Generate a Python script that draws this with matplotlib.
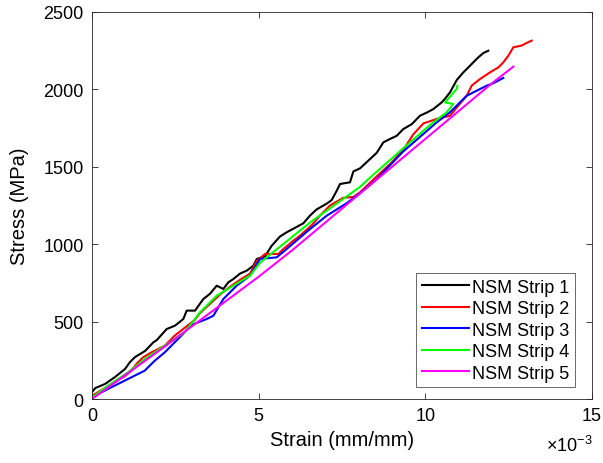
import numpy as np
import matplotlib
matplotlib.use("Agg")
import matplotlib.pyplot as plt

plt.rcParams['font.family'] = ['Liberation Sans', 'DejaVu Sans']
plt.rcParams['mathtext.fontset'] = 'custom'
plt.rcParams['mathtext.rm'] = 'Liberation Sans'

# strain values in units of 1e-3 mm/mm, stress in MPa
strain_1 = [0.0, 0.1, 0.39, 0.69, 0.99, 1.14, 1.29, 1.59, 1.84, 1.94, 2.24, 2.49,
            2.74, 2.84, 3.09, 3.34, 3.54, 3.74, 3.94, 4.09, 4.24, 4.44, 4.64,
            4.84, 4.94, 5.19, 5.39, 5.64, 5.84, 6.04, 6.34, 6.54, 6.74, 7.04,
            7.19, 7.34, 7.44, 7.74, 7.84, 8.04, 8.34, 8.54, 8.74, 8.94, 9.14,
            9.34, 9.59, 9.84, 10.04, 10.24, 10.49, 10.59, 10.74, 10.94, 11.14,
            11.29, 11.44, 11.59, 11.74, 11.89]
stress_1 = [45, 71, 97, 142, 194, 239, 271, 310, 366, 380, 452, 474,
            517, 571, 571, 646, 680, 732, 711, 754, 775, 810, 829,
            861, 904, 922, 990, 1050, 1077, 1100, 1135, 1185, 1225, 1262,
            1285, 1345, 1389, 1400, 1470, 1490, 1550, 1590, 1658, 1680, 1700,
            1744, 1775, 1830, 1850, 1873, 1916, 1940, 1981, 2060, 2110,
            2142, 2175, 2207, 2235, 2250]

strain_2 = [0.0, 0.5, 1.0, 1.18, 1.33, 1.53, 1.78, 2.18, 2.48, 2.78, 3.08, 3.24,
            3.54, 3.84, 4.14, 4.44, 4.74, 4.94, 5.19, 5.39, 5.59, 5.74, 6.04,
            6.24, 6.6, 6.84, 7.14, 7.54, 7.84, 8.04, 8.5, 9.0, 9.4, 9.64, 9.94,
            10.34, 10.74, 10.99, 11.24, 11.39, 11.64, 11.94, 12.19, 12.34, 12.49,
            12.64, 12.89, 13.04, 13.19]
stress_2 = [21, 85, 150, 183, 226, 269, 301, 344, 409, 460, 510, 555,
            615, 675, 725, 770, 810, 890, 937, 937, 937, 969, 1023,
            1055, 1125, 1185, 1250, 1300, 1305, 1335, 1430, 1530, 1630, 1710, 1780,
            1809, 1830, 1895, 1959, 2024, 2067, 2110, 2142, 2175, 2218,
            2272, 2283, 2300, 2315]

strain_3 = [0.0, 0.48, 0.88, 1.28, 1.58, 1.88, 2.18, 2.48, 2.78, 2.94, 3.44, 3.64,
            3.94, 4.34, 4.74, 5.04, 5.54, 5.84, 6.54, 7.04, 7.64, 8.04, 8.54,
            9.34, 10.34, 10.74, 11.24, 11.84, 12.04, 12.34]
stress_3 = [11, 65, 108, 151, 183, 247, 301, 366, 431, 474, 517, 538,
            646, 732, 797, 905, 915, 969, 1098, 1184, 1265, 1330, 1420,
            1600, 1787, 1852, 1959, 2024, 2040, 2074]

strain_4 = [0.0, 0.48, 1.08, 1.58, 2.18, 2.78, 3.24, 3.74, 4.24, 4.74, 5.04, 6.54,
            8.04, 8.34, 9.34, 10.14, 10.64, 10.84, 10.59, 10.94, 10.96]
stress_4 = [10, 86, 172, 258, 344, 431, 560, 667, 732, 797, 880, 1140,
            1370, 1430, 1620, 1770, 1852, 1906, 1916, 2003, 2024]

strain_5 = [0.0, 1.0, 2.0, 3.0, 4.0, 5.0, 6.0, 7.0, 8.0, 9.0, 10.0, 11.0, 12.0, 12.64]
stress_5 = [0, 155, 310, 470, 630, 790, 960, 1140, 1320, 1500, 1680, 1860, 2040, 2147]

labels = ['NSM Strip 1', 'NSM Strip 2', 'NSM Strip 3', 'NSM Strip 4', 'NSM Strip 5']
colors = ['black', '#ff0000', '#0000ff', '#00ff00', '#ff00ff']
series = [(strain_1, stress_1), (strain_2, stress_2), (strain_3, stress_3),
          (strain_4, stress_4), (strain_5, stress_5)]

fig = plt.figure(figsize=(6.03, 4.64), dpi=100)
ax = fig.add_axes([0.1526, 0.1379, 0.8292, 0.8341])

for (x, y), c, lab in zip(series, colors, labels):
    ax.plot(x, y, color=c, linewidth=1.5, label=lab)

ax.set_xlim(0, 15)
ax.set_ylim(0, 2500)
ax.set_xticks([0, 5, 10, 15])
ax.set_yticks([0, 500, 1000, 1500, 2000, 2500])

ax.tick_params(direction='in', top=True, right=True, labelsize=13,
               colors='#262626', labelcolor='black', length=4, width=0.6, pad=6)
for s in ax.spines.values():
    s.set_color('#262626')
    s.set_linewidth(0.6)

ax.set_xlabel('Strain (mm/mm)', fontsize=14.5, labelpad=4)
ax.set_ylabel('Stress (MPa)', fontsize=14.5, labelpad=10)

# the x scale factor, placed like MATLAB's exponent label
fig.text(0.982, 0.018, r'$\times 10^{-3}$', fontsize=13, ha='right', va='bottom')

leg = ax.legend(loc='lower right', fontsize=13, frameon=True, fancybox=False,
                handlelength=2.6, handletextpad=0.2, labelspacing=0.25,
                borderpad=0.3, borderaxespad=0.0,
                bbox_to_anchor=(0.966, 0.031))
leg.get_frame().set_edgecolor('#262626')
leg.get_frame().set_linewidth(0.6)

fig.savefig('out.png', dpi=100)
